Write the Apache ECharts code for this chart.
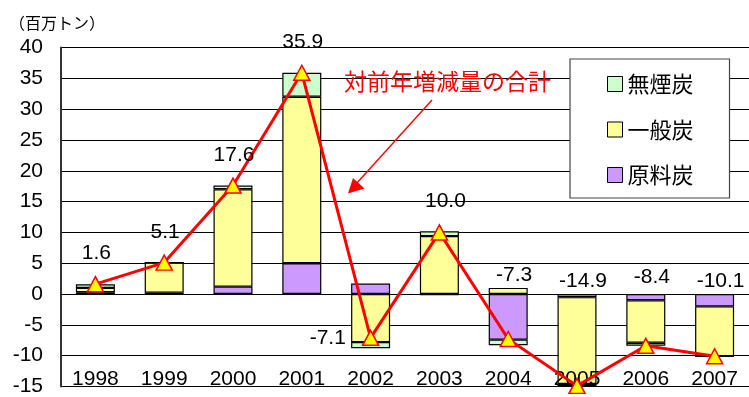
<!DOCTYPE html>
<html>
<head>
<meta charset="utf-8">
<script src="https://cdn.jsdelivr.net/npm/echarts@6/dist/echarts.min.js"></script>
<style>
  html, body { margin: 0; padding: 0; background: #fff; }
  #chart { width: 749px; height: 397px; }
</style>
</head>
<body>
<div id="chart"></div>
<script>
// Year-on-year change in coal imports by type (million tonnes)
const years = ['1998', '1999', '2000', '2001', '2002', '2003', '2004', '2005', '2006', '2007'];
const cokingCoal = [0.3, 0.2, 1.2, 5.0, 1.7, -0.2, -7.4, -0.5, -1.0, -2.0];      // 原料炭
const steamCoal = [0.7, 4.9, 15.8, 27.0, -7.8, 9.4, 1.0, -14.1, -6.9, -8.1];     // 一般炭
const anthracite = [0.6, 0.0, 0.6, 3.9, -1.0, 0.8, -0.9, -0.3, -0.5, 0.0];      // 無煙炭
const totals = [1.6, 5.1, 17.6, 35.9, -7.1, 10.0, -7.3, -14.9, -8.4, -10.1];    // 合計
const yTicks = { min: -15, max: 40, step: 5 };

const LATIN = "'Liberation Sans', Arial, sans-serif";
const CJK = "'Noto Sans CJK JP', sans-serif";

const chart = echarts.init(document.getElementById('chart'), null, { renderer: 'canvas' });

function barSeries(name, values, color) {
  return {
    name: name,
    type: 'bar',
    stack: 'coal',
    barWidth: 39,
    data: values,
    itemStyle: { color: color, borderColor: '#000', borderWidth: 1.2 },
    z: 2
  };
}

const option = {
  animation: false,
  backgroundColor: '#fff',
  title: {
    text: '（百万トン）',
    left: 4, top: 10,
    textStyle: { fontFamily: CJK, fontSize: 16, fontWeight: 'normal', color: '#000' }
  },
  grid: { left: 61, top: 47.5, right: -2, bottom: 8, containLabel: false },
  legend: {
    orient: 'vertical',
    left: 570, top: 59,
    data: ['無煙炭', '一般炭', '原料炭'],
    itemWidth: 15, itemHeight: 15, itemGap: 23.5,
    padding: [14, 36, 12, 37],
    backgroundColor: '#fff',
    borderColor: '#444', borderWidth: 1.2,
    icon: 'rect',
    itemStyle: { borderColor: '#000', borderWidth: 1 },
    textStyle: { fontFamily: CJK, fontSize: 22, lineHeight: 22, color: '#000', padding: [0, 0, 0, 0] },
    selectedMode: false
  },
  xAxis: [
    {
      type: 'category',
      data: years,
      axisLine: { onZero: true, lineStyle: { color: '#000', width: 1.2 } },
      axisTick: { inside: true, length: 8, lineStyle: { color: '#000' } },
      axisLabel: { show: false },
      splitLine: { show: false }
    },
    {
      type: 'category',
      data: years,
      position: 'bottom',
      axisLine: { show: false, onZero: false },
      axisTick: { show: false },
      axisLabel: { inside: true, margin: -3, fontFamily: LATIN, fontSize: 21, color: '#000' },
      z: 2.5
    }
  ],
  yAxis: {
    type: 'value',
    min: yTicks.min, max: yTicks.max, interval: yTicks.step,
    axisLine: { show: true, lineStyle: { color: '#333', width: 2 } },
    axisTick: { show: false },
    axisLabel: { margin: 18, fontFamily: LATIN, fontSize: 21, color: '#000' },
    splitLine: { lineStyle: { color: '#000', width: 1 } }
  },
  series: [
    barSeries('原料炭', cokingCoal, '#CC99FF'),
    barSeries('一般炭', steamCoal, '#FFFF99'),
    barSeries('無煙炭', anthracite, '#CCFFCC'),
    {
      name: '合計',
      type: 'line',
      data: totals,
      z: 5,
      symbol: 'triangle',
      symbolSize: [16, 15],
      lineStyle: { color: '#FF0000', width: 3 },
      itemStyle: { color: '#FFFF00', borderColor: '#FF0000', borderWidth: 1.5 },
      label: {
        show: true,
        fontFamily: LATIN, fontSize: 21, color: '#000',
        formatter: p => p.value.toFixed(1)
      }
    }
  ],
  graphic: [
    {
      type: 'text',
      left: 344, top: 70,
      style: { text: '対前年増減量の合計', fontFamily: CJK, fontSize: 23, fill: '#FF0000' },
      z: 10
    },
    {
      type: 'line',
      shape: { x1: 432, y1: 100, x2: 356, y2: 184 },
      style: { stroke: '#FF0000', lineWidth: 1.4 },
      z: 10
    },
    {
      type: 'polygon',
      shape: { points: [[348, 193.5], [353, 178], [364.5, 188.5]] },
      style: { fill: '#FF0000' },
      z: 10
    }
  ]
};

chart.setOption(option);

// Place the total labels: above the marker for rises, just above the zero line for
// falls after 2003, and to the left of the 2002 marker.
const lift = { '2004': 3.0, '2005': 2.1, '2006': 2.7, '2007': 2.1 };
const labelData = totals.map((v, i) => {
  const y = years[i];
  const pt = chart.convertToPixel({ seriesIndex: 3 }, [i, v]);
  if (y === '2002') {
    return { value: v, label: { position: 'left', distance: 16 } };
  }
  if (lift[y] !== undefined) {
    const target = chart.convertToPixel({ yAxisIndex: 0 }, lift[y]);
    return { value: v, label: { position: 'inside', offset: [6, target - pt[1]] } };
  }
  const dx = y === '2003' ? 6 : 1;
  return { value: v, label: { position: 'top', distance: 12, offset: [dx, 0] } };
});
chart.setOption({ series: [{}, {}, {}, { data: labelData }] });
</script>
</body>
</html>
